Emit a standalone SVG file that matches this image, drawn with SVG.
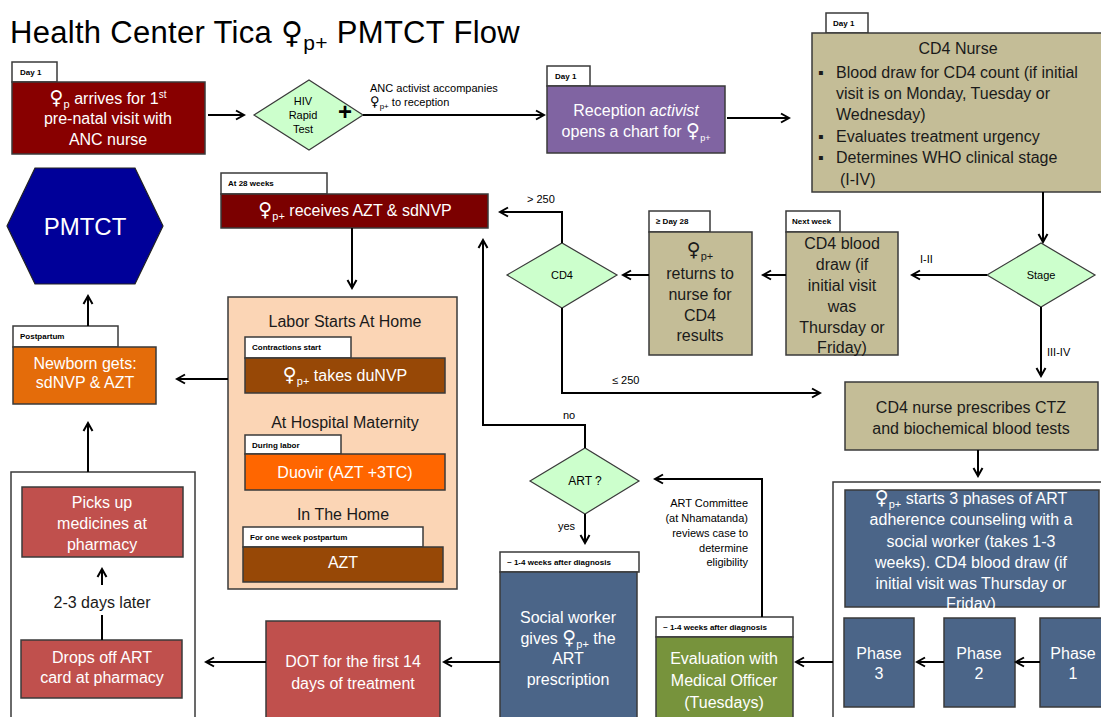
<svg xmlns="http://www.w3.org/2000/svg" width="1101" height="717" viewBox="0 0 1101 717">
<defs>
<marker id="ah" viewBox="0 0 12 12" refX="10" refY="6" markerWidth="12" markerHeight="12" markerUnits="userSpaceOnUse" orient="auto">
<path d="M2,1.5 L10,6 L2,10.5" fill="none" stroke="#000" stroke-width="2"/>
</marker>
<style>
text{font-family:'Liberation Sans',Arial,'DejaVu Sans',sans-serif}
.box{stroke:#3a3a3a;stroke-width:1.5}
.tab{fill:#fff;stroke:#3a3a3a;stroke-width:1.5}
.tabt{font-size:8px;font-weight:bold;fill:#000}
.wt{fill:#fff;font-size:16px;text-anchor:middle}
.dt{fill:#1a1a1a;font-size:16px;text-anchor:middle}
.lt{fill:#1a1a1a;font-size:16px}
.sm{font-size:11px;fill:#000}
.dia{fill:#ccffcc;stroke:#3a3a3a;stroke-width:1.2}
.c{stroke:#000;stroke-width:2;fill:none}
.a{marker-end:url(#ah)}
.fem{font-family:'DejaVu Sans',sans-serif;font-size:1.2em}
</style>
</defs>
<rect width="1101" height="717" fill="#fff"/>
<text x="10" y="43" font-size="31" fill="#000" letter-spacing="0.3">Health Center Tica <tspan style="font-family:'DejaVu Sans',sans-serif;font-size:30px">♀</tspan><tspan dy="7" font-size="21">p+</tspan><tspan dy="-7"> PMTCT Flow</tspan></text>

<g id="n-arrive">
<rect class="tab" x="12" y="62" width="45" height="20"/>
<text class="tabt" x="20" y="75">Day 1</text>
<rect class="box" x="12" y="82" width="193" height="72" fill="#880000"/>
<text class="wt" x="108" y="104"><tspan class="fem">♀</tspan><tspan dy="4" font-size="11">p</tspan><tspan dy="-4"> arrives for 1</tspan><tspan dy="-6" font-size="10">st</tspan></text>
<text class="wt" x="108" y="124">pre-natal visit with</text>
<text class="wt" x="108" y="145">ANC nurse</text>
</g>

<g id="n-hiv">
<polygon class="dia" points="254,115 309,80 363,115 309,150"/>
<text class="sm" x="303" y="105" text-anchor="middle">HIV</text>
<text class="sm" x="303" y="119" text-anchor="middle">Rapid</text>
<text class="sm" x="303" y="133" text-anchor="middle">Test</text>
<text x="345" y="120" font-size="24" font-weight="bold" text-anchor="middle">+</text>
</g>

<g id="n-reception">
<rect class="tab" x="547" y="66" width="43" height="20"/>
<text class="tabt" x="555" y="79">Day 1</text>
<rect class="box" x="547" y="86" width="178" height="67" fill="#8064a2"/>
<text class="wt" x="636" y="116">Reception <tspan font-style="italic">activist</tspan></text>
<text class="wt" x="636" y="137">opens a chart for <tspan class="fem">♀</tspan><tspan dy="4" font-size="9">p+</tspan></text>
</g>

<g id="n-cd4nurse">
<rect class="tab" x="826" y="13" width="42" height="20"/>
<text class="tabt" x="833" y="26">Day 1</text>
<rect class="box" x="812" y="33" width="300" height="159" fill="#c4bd97"/>
<text class="dt" x="958" y="54">CD4 Nurse</text>
<text class="lt" x="818" y="78">▪</text><text class="lt" x="836" y="78">Blood draw  for CD4 count (if initial</text>
<text class="lt" x="836" y="99">visit is on Monday, Tuesday or</text>
<text class="lt" x="836" y="120">Wednesday)</text>
<text class="lt" x="818" y="142">▪</text><text class="lt" x="836" y="142">Evaluates treatment urgency</text>
<text class="lt" x="818" y="163">▪</text><text class="lt" x="836" y="163">Determines WHO clinical stage</text>
<text class="lt" x="840" y="185">(I-IV)</text>
</g>

<g id="n-stage">
<polygon class="dia" points="987,275 1041,243 1095,275 1041,307"/>
<text class="sm" x="1041" y="279" text-anchor="middle">Stage</text>
</g>

<g id="n-nextweek">
<rect class="tab" x="786" y="211" width="54" height="21"/>
<text class="tabt" x="792" y="224">Next week</text>
<rect class="box" x="786" y="232" width="112" height="123" fill="#c4bd97"/>
<text class="dt" x="842" y="249">CD4 blood</text>
<text class="dt" x="842" y="270">draw (if</text>
<text class="dt" x="842" y="291">initial visit</text>
<text class="dt" x="842" y="312">was</text>
<text class="dt" x="842" y="333">Thursday or</text>
<text class="dt" x="842" y="353">Friday)</text>
</g>

<g id="n-day28">
<rect class="tab" x="649" y="211" width="61" height="21"/>
<text class="tabt" x="656" y="224">≥ Day 28</text>
<rect class="box" x="649" y="232" width="103" height="123" fill="#c4bd97"/>
<text class="dt" x="700" y="256"><tspan class="fem">♀</tspan><tspan dy="4" font-size="11">p+</tspan></text>
<text class="dt" x="700" y="279">returns to</text>
<text class="dt" x="700" y="300">nurse for</text>
<text class="dt" x="700" y="321">CD4</text>
<text class="dt" x="700" y="341">results</text>
</g>

<g id="n-cd4">
<polygon class="dia" points="507,275 562,243 617,275 562,308"/>
<text class="sm" x="562" y="279" text-anchor="middle">CD4</text>
</g>

<g id="n-azt">
<rect class="tab" x="221" y="173" width="106" height="21"/>
<text class="tabt" x="228" y="186">At 28 weeks</text>
<rect class="box" x="221" y="194" width="267" height="34" fill="#7b0000"/>
<text class="wt" x="355" y="216"><tspan class="fem">♀</tspan><tspan dy="4" font-size="11">p+</tspan><tspan dy="-4"> receives AZT &amp; sdNVP</tspan></text>
</g>

<g id="n-labor">
<rect class="box" x="228" y="297" width="229" height="292" fill="#fbd5b5"/>
<text class="dt" x="345" y="327">Labor Starts At Home</text>
<rect class="tab" x="245" y="337" width="106" height="21"/>
<text class="tabt" x="252" y="350">Contractions start</text>
<rect class="box" x="245" y="358" width="200" height="35" fill="#974806"/>
<text class="wt" x="345" y="381"><tspan class="fem">♀</tspan><tspan dy="4" font-size="11">p+</tspan><tspan dy="-4"> takes duNVP</tspan></text>
<text class="dt" x="345" y="428">At Hospital Maternity</text>
<rect class="tab" x="245" y="435" width="96" height="19"/>
<text class="tabt" x="252" y="448">During labor</text>
<rect class="box" x="245" y="454" width="200" height="36" fill="#ff6600"/>
<text class="wt" x="345" y="478">Duovir (AZT +3TC)</text>
<text class="dt" x="343" y="520">In The Home</text>
<rect class="tab" x="243" y="527" width="180" height="20"/>
<text class="tabt" x="250" y="540">For one week postpartum</text>
<rect class="box" x="243" y="547" width="200" height="35" fill="#974806"/>
<text class="wt" x="343" y="568">AZT</text>
</g>

<g id="n-pmtct">
<polygon points="7,226 35,168 135,168 163,226 135,284 35,284" fill="#000099" stroke="#222" stroke-width="1.2"/>
<text x="85" y="235" font-size="24" fill="#fff" text-anchor="middle">PMTCT</text>
</g>

<g id="n-newborn">
<rect class="tab" x="13" y="326" width="105" height="21"/>
<text class="tabt" x="20" y="339">Postpartum</text>
<rect class="box" x="13" y="347" width="143" height="57" fill="#e46c0a"/>
<text class="wt" x="85" y="369">Newborn gets:</text>
<text class="wt" x="85" y="388">sdNVP &amp; AZT</text>
</g>

<g id="n-pharmacy">
<rect x="11" y="472" width="184" height="255" fill="#fff" stroke="#3a3a3a" stroke-width="1.5"/>
<rect class="box" x="22" y="487" width="161" height="70" fill="#c0504d"/>
<text class="wt" x="102" y="508">Picks up</text>
<text class="wt" x="102" y="529">medicines at</text>
<text class="wt" x="102" y="550">pharmacy</text>
<text class="dt" x="102" y="608">2-3 days later</text>
<rect class="box" x="21" y="640" width="161" height="58" fill="#c0504d"/>
<text class="wt" x="102" y="663">Drops off ART</text>
<text class="wt" x="102" y="683">card at pharmacy</text>
</g>

<g id="n-dot">
<rect class="box" x="266" y="621" width="174" height="105" fill="#c0504d"/>
<text class="wt" x="353" y="667">DOT for the first 14</text>
<text class="wt" x="353" y="689">days of treatment</text>
</g>

<g id="n-art">
<polygon class="dia" points="530,481 585,448 639,481 585,514"/>
<text x="585" y="485" font-size="12" text-anchor="middle" fill="#000">ART ?</text>
</g>

<g id="n-social">
<rect class="tab" x="500" y="552" width="139" height="20"/>
<text class="tabt" x="507" y="565">~ 1-4 weeks after diagnosis</text>
<rect class="box" x="500" y="572" width="137" height="155" fill="#4b6588"/>
<text class="wt" x="568" y="623">Social worker</text>
<text class="wt" x="568" y="644">gives <tspan class="fem">♀</tspan><tspan dy="4" font-size="11">p+</tspan><tspan dy="-4"> the</tspan></text>
<text class="wt" x="568" y="664">ART</text>
<text class="wt" x="568" y="685">prescription</text>
</g>

<g id="n-eval">
<rect class="tab" x="656" y="617" width="137" height="20"/>
<text class="tabt" x="663" y="630">~ 1-4 weeks after diagnosis</text>
<rect class="box" x="656" y="637" width="137" height="90" fill="#77933c"/>
<text class="wt" x="724" y="664">Evaluation with</text>
<text class="wt" x="724" y="686">Medical Officer</text>
<text class="wt" x="724" y="708">(Tuesdays)</text>
</g>

<g id="n-ctz">
<rect class="box" x="845" y="382" width="253" height="68" fill="#c4bd97"/>
<text class="dt" x="971" y="413">CD4 nurse prescribes CTZ</text>
<text class="dt" x="971" y="434">and biochemical blood tests</text>
</g>

<g id="n-counsel">
<rect x="833" y="482" width="280" height="245" fill="#fff" stroke="#3a3a3a" stroke-width="1.5"/>
<rect class="box" x="845" y="490" width="254" height="117" fill="#4b6588"/>
<text class="wt" x="971" y="504" font-size="15"><tspan class="fem">♀</tspan><tspan dy="4" font-size="11">p+</tspan><tspan dy="-4"> starts 3 phases of ART</tspan></text>
<text class="wt" x="971" y="525">adherence counseling with a</text>
<text class="wt" x="971" y="547">social worker (takes 1-3</text>
<text class="wt" x="971" y="568">weeks).  CD4 blood draw (if</text>
<text class="wt" x="971" y="589">initial visit was Thursday or</text>
<text class="wt" x="971" y="609">Friday)</text>
<rect class="box" x="844" y="618" width="70" height="89" fill="#4b6588"/>
<text class="wt" x="879" y="659">Phase</text>
<text class="wt" x="879" y="679">3</text>
<rect class="box" x="944" y="618" width="71" height="89" fill="#4b6588"/>
<text class="wt" x="979" y="659">Phase</text>
<text class="wt" x="979" y="679">2</text>
<rect class="box" x="1040" y="618" width="71" height="89" fill="#4b6588"/>
<text class="wt" x="1073" y="659">Phase</text>
<text class="wt" x="1073" y="679">1</text>
</g>

<g id="connectors">
<path class="c a" d="M208,115 H244"/>
<path class="c a" d="M363,115 H544"/>
<path class="c a" d="M727,118 H789"/>
<path class="c a" d="M1043,192 V242"/>
<path class="c a" d="M987,275 H912"/>
<path class="c a" d="M1041,307 V376"/>
<path class="c a" d="M786,275 H763"/>
<path class="c a" d="M649,275 H623"/>
<path class="c a" d="M562,243 V212 H500"/>
<path class="c a" d="M562,308 V393 H820"/>
<path class="c a" d="M585,448 V425 H483 V240"/>
<path class="c a" d="M585,514 V543"/>
<path class="c a" d="M762,617 V479 H655"/>
<path class="c a" d="M978,450 V476"/>
<path class="c a" d="M833,662 H796"/>
<path class="c a" d="M944,662 H917"/>
<path class="c a" d="M1040,662 H1016"/>
<path class="c a" d="M500,662 H444"/>
<path class="c a" d="M266,662 H206"/>
<path class="c a" d="M352,228 V288"/>
<path class="c a" d="M228,379 H177"/>
<path class="c a" d="M102,585 V569"/>
<path class="c" d="M102,615 V640"/>
<path class="c a" d="M88,472 V423"/>
<path class="c a" d="M88,326 V296"/>
<text class="sm" x="370" y="92">ANC activist accompanies</text>
<text class="sm" x="370" y="106"><tspan class="fem">♀</tspan><tspan dy="3" font-size="8">p+</tspan><tspan dy="-3"> to reception</tspan></text>
<text class="sm" x="920" y="263">I-II</text>
<text class="sm" x="1047" y="356">III-IV</text>
<text class="sm" x="527" y="203">&gt; 250</text>
<text class="sm" x="612" y="384">≤ 250</text>
<text class="sm" x="563" y="419">no</text>
<text class="sm" x="558" y="530">yes</text>
<text class="sm" x="748" y="507" text-anchor="end">ART Committee</text>
<text class="sm" x="748" y="522" text-anchor="end">(at Nhamatanda)</text>
<text class="sm" x="748" y="537" text-anchor="end">reviews case to</text>
<text class="sm" x="748" y="552" text-anchor="end">determine</text>
<text class="sm" x="748" y="566" text-anchor="end">eligibility</text>
</g>
</svg>
